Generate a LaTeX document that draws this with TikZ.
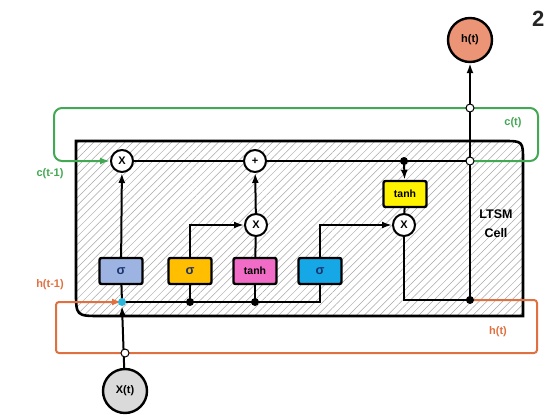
\documentclass[tikz,border=0pt]{standalone}
\usepackage{fontspec}
\setmainfont{Liberation Sans}
\usetikzlibrary{arrows.meta,patterns.meta,positioning,calc}

\definecolor{cgreen}{HTML}{43A853}
\definecolor{horange}{HTML}{E07040}
\definecolor{gblue}{HTML}{9DB4E2}
\definecolor{gorange}{HTML}{FFBF00}
\definecolor{gpink}{HTML}{F06CC6}
\definecolor{gcyan}{HTML}{16A8E6}
\definecolor{gyellow}{HTML}{FFF200}
\definecolor{hsalmon}{HTML}{EC9476}
\definecolor{xgray}{HTML}{DADADA}
\definecolor{sigblue}{HTML}{1C3570}
\definecolor{tealdot}{HTML}{2BB5D8}

\begin{document}
\begin{tikzpicture}[x=1pt,y=-1pt,line width=2pt,font=\bfseries]
    \tikzstyle{op}=[circle, draw, fill=white, inner sep=0pt, minimum size=22pt, font=\bfseries\fontsize{11}{11}\selectfont]
    \tikzstyle{gate}=[draw, rounded corners=2pt, line width=2.4pt, minimum width=43pt, minimum height=26pt, inner sep=0pt, font=\bfseries\fontsize{10.5}{10.5}\selectfont]
    \tikzstyle{dot}=[circle, fill=black, inner sep=0pt, minimum size=8pt]
    \tikzstyle{hole}=[circle, draw, fill=white, line width=1pt, inner sep=0pt, minimum size=8pt]
    \tikzstyle{io}=[circle, draw, line width=2.4pt, inner sep=0pt, minimum size=44pt, font=\bfseries\fontsize{11}{11}\selectfont]
    \tikzstyle{lab}=[font=\bfseries\fontsize{11}{12}\selectfont]
    \tikzstyle{arr}=[-{Latex[length=10pt,width=7pt]}]

    \useasboundingbox (0,0) rectangle (547,415);

    % the cell
    \draw[line width=2.6pt, pattern={Lines[angle=45,distance=5.5pt,line width=0.5pt]}, pattern color=gray!70]
      (76,141) -- (503,141) .. controls (523,141) .. (523,161) -- (523,316)
      -- (101,316) .. controls (76,316) .. (76,291) -- cycle;

    % operations
    \node[op] (f) at (122,161) {X};
    \node[op] (add) at (255,161) {+};
    \node[op] (ix) at (256,225) {X};
    \node[op] (ox) at (404,225) {X};
    \node[gate, fill=gyellow] (ct) at (405,194) {tanh};

    % gates
    \node[gate, fill=gblue, text=sigblue, font=\bfseries\fontsize{13}{13}\selectfont] (fg) at (121,271) {σ};
    \node[gate, fill=gorange, text=sigblue, font=\bfseries\fontsize{13}{13}\selectfont] (ig) at (190,271) {σ};
    \node[gate, fill=gpink] (cg) at (255,271) {tanh};
    \node[gate, fill=gcyan, text=sigblue, font=\bfseries\fontsize{13}{13}\selectfont] (og) at (320,271) {σ};

    % in and out
    \node[io, fill=hsalmon] (ht) at (470,40) {h(t)};
    \node[io, fill=xgray] (xt) at (125,391) {X(t)};

    % junctions
    \coordinate (hin) at (122,302);
    \coordinate (d1) at (190,302);
    \coordinate (d2) at (255,302);
    \coordinate (d3) at (320,302);
    \coordinate (dtop) at (404,161);
    \coordinate (jc) at (470,161);
    \coordinate (jg) at (470,108);
    \coordinate (jh) at (470,300);
    \coordinate (jx) at (125,353);

    % loops
    \draw[cgreen, arr, rounded corners=8pt] (jc) -- (538,161) -- (538,108) -- (54,108) -- (54,161) -- (f);
    \draw[horange, arr, rounded corners=3pt] (jh) -- (537,300) -- (537,353) -- (56,353) -- (56,302) -- (hin);

    % cell state
    \draw (f) -- (add);
    \draw (add) -- (jc);
    \draw[arr] (dtop) -- (ct);
    \draw (ct) -- (ox);

    % gate wiring
    \draw[arr] (fg) -- (f);
    \draw[arr] (ig.north) |- (ix);
    \draw (cg) -- (ix);
    \draw[arr] (ix) -- (add);
    \draw[arr] (og.north) |- (ox);
    \draw (ox) |- (jh);
    \draw (fg) -- (hin);
    \draw (hin) -- (d3) -- (og);
    \draw (ig) -- (d1);
    \draw (cg) -- (d2);
    \draw[arr] (xt) -- ($(hin)+(0,4)$);
    \draw[arr] (jh) -- (ht);

    \node[dot] at (d1) {};
    \node[dot] at (d2) {};
    \node[dot] at (dtop) {};
    \node[dot] at (jh) {};
    \node[dot, fill=tealdot, minimum size=8pt] at (hin) {};
    \node[hole] at (jc) {};
    \node[hole] at (jg) {};
    \node[hole] at (jx) {};

    % labels
    \node[lab, text=cgreen] (ctlab) at (513,123) {c(t)};
    \node[lab, text=cgreen] (cprev) at (50,174) {c(t-1)};
    \node[lab, text=horange] (hprev) at (50,285) {h(t-1)};
    \node[lab, text=horange] (htlab) at (498,332) {h(t)};
    \node[align=center, font=\bfseries\fontsize{12.5}{19}\selectfont] (celllab) at (496,224) {LTSM\\Cell};
    \node[anchor=west, inner sep=0pt, font=\bfseries\fontsize{22}{22}\selectfont, text=black!85] (num) at (531,19) {2};
\end{tikzpicture}
\end{document}
